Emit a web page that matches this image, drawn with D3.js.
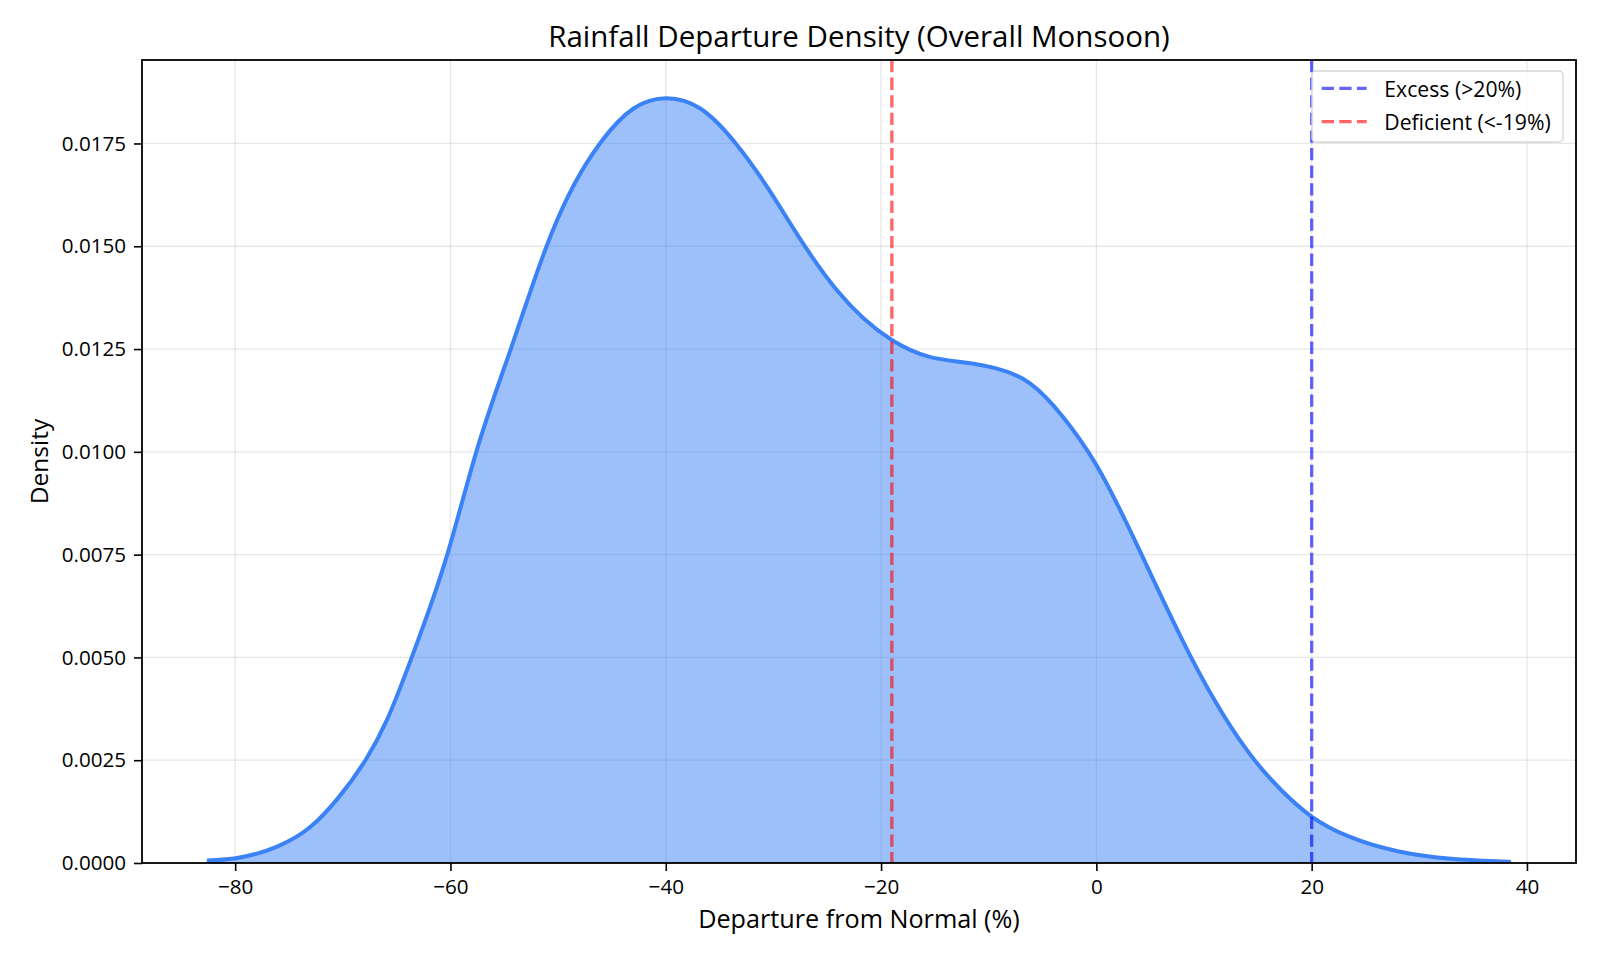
<!DOCTYPE html>
<html>
<head>
<meta charset="utf-8">
<script src="https://cdn.jsdelivr.net/npm/d3@7"></script>
<style>
  html, body { margin: 0; padding: 0; background: #fff; }
  svg { display: block; font-family: "Open Sans", "Noto Sans", sans-serif; }
</style>
</head>
<body>
<svg id="chart" width="1600" height="960"></svg>
<script>
// ---- data ----
const departure = [-82.6, -80.1, -76.1, -73.0, -70.6, -67.9, -65.9, -63.6, -60.3,
  -57.6, -54.4, -51.0, -49.1, -46.0, -43.0, -39.9, -36.8,
  -33.5, -30.6, -27.2, -24.1, -19.0, -15.5, -12.4, -9.3,
  -6.2, -3.1, 0.0, 4.2, 8.8, 14.7, 17.3,
  20.0, 23.5, 28.1, 32.7, 38.5];
const density = [0.00006, 0.00011, 0.00040, 0.00088, 0.00153, 0.00250, 0.00348, 0.00500, 0.00750,
  0.01000, 0.01250, 0.01505, 0.01620, 0.01754, 0.01835, 0.01860, 0.01835,
  0.01750, 0.01645, 0.01505, 0.01393, 0.01272, 0.01231, 0.01218, 0.01203,
  0.01167, 0.01085, 0.00968, 0.00750, 0.00500, 0.00250, 0.00174,
  0.00113, 0.00064, 0.00028, 0.00011, 0.00003];
const xTicks = [-80, -60, -40, -20, 0, 20, 40];
const yTicks = [0, 0.0025, 0.0050, 0.0075, 0.0100, 0.0125, 0.0150, 0.0175];
const thresholdValues = [20, -19];
const thresholdLabels = ["Excess (>20%)", "Deficient (<-19%)"];
const titleText = "Rainfall Departure Density (Overall Monsoon)";
const xLabelText = "Departure from Normal (%)";
const yLabelText = "Density";

// ---- custom d3 curve: natural cubic spline parameterised by x ----
function NaturalX(context) { this._context = context; }
NaturalX.prototype = {
  areaStart: function() { this._line = 0; },
  areaEnd: function() { this._line = NaN; },
  lineStart: function() { this._x = []; this._y = []; },
  point: function(px, py) { this._x.push(+px); this._y.push(+py); },
  lineEnd: function() {
    const xs = this._x, ys = this._y, n = xs.length, c = this._context;
    if (n) {
      this._line ? c.lineTo(xs[0], ys[0]) : c.moveTo(xs[0], ys[0]);
      if (n === 2) c.lineTo(xs[1], ys[1]);
      else if (n > 2) {
        const h = [], M = new Array(n).fill(0);
        for (let i = 0; i < n - 1; i++) h.push(xs[i + 1] - xs[i]);
        // tridiagonal system for interior second derivatives
        const m = n - 2, a = [], b = [], cc = [], d = [];
        for (let k = 0; k < m; k++) {
          const i = k + 1;
          a.push(h[i - 1]); b.push(2 * (h[i - 1] + h[i])); cc.push(h[i]);
          d.push(6 * ((ys[i + 1] - ys[i]) / h[i] - (ys[i] - ys[i - 1]) / h[i - 1]));
        }
        for (let k = 1; k < m; k++) {
          const w = a[k] / b[k - 1];
          b[k] -= w * cc[k - 1]; d[k] -= w * d[k - 1];
        }
        const sol = new Array(m);
        sol[m - 1] = d[m - 1] / b[m - 1];
        for (let k = m - 2; k >= 0; k--) sol[k] = (d[k] - cc[k] * sol[k + 1]) / b[k];
        for (let k = 0; k < m; k++) M[k + 1] = sol[k];
        for (let i = 0; i < n - 1; i++) {
          const hi = h[i], s = (ys[i + 1] - ys[i]) / hi;
          const m0 = s - hi * (2 * M[i] + M[i + 1]) / 6;
          const m1 = s + hi * (M[i] + 2 * M[i + 1]) / 6;
          c.bezierCurveTo(xs[i] + hi / 3, ys[i] + m0 * hi / 3,
                          xs[i + 1] - hi / 3, ys[i + 1] - m1 * hi / 3,
                          xs[i + 1], ys[i + 1]);
        }
      }
    }
    if (this._line || (this._line !== 0 && n === 1)) c.closePath();
    this._line = 1 - this._line;
    this._x = this._y = null;
  }
};
const curveNaturalX = ctx => new NaturalX(ctx);

// ---- layout ----
const W = 1600, H = 960;
const margin = { left: 142, right: 24, top: 60, bottom: 97 };
const pw = W - margin.left - margin.right;
const ph = H - margin.top - margin.bottom;

const svg = d3.select("#chart");
const g = svg.append("g").attr("transform", `translate(${margin.left},${margin.top})`);

const xMin = d3.min(departure), xMax = d3.max(departure);
const xPad = (xMax - xMin) * 0.05;
const x = d3.scaleLinear().domain([xMin - xPad, xMax + xPad]).range([0, pw]);
const yTop = d3.max(density) * 1.05;
const y = d3.scaleLinear().domain([0, yTop]).range([ph, 0]);

const pts = departure.map((d, i) => [d, density[i]]);

svg.append("defs").append("clipPath").attr("id", "plotclip")
  .append("rect").attr("x", 0).attr("y", 0).attr("width", pw).attr("height", ph);

// grid
g.append("g").selectAll("line").data(xTicks).join("line")
  .attr("x1", d => x(d)).attr("x2", d => x(d)).attr("y1", 0).attr("y2", ph)
  .attr("stroke", "#b0b0b0").attr("stroke-opacity", 0.3).attr("stroke-width", 1.3);
g.append("g").selectAll("line").data(yTicks).join("line")
  .attr("x1", 0).attr("x2", pw).attr("y1", d => y(d)).attr("y2", d => y(d))
  .attr("stroke", "#b0b0b0").attr("stroke-opacity", 0.3).attr("stroke-width", 1.3);

// area + line
const plot = g.append("g").attr("clip-path", "url(#plotclip)");
plot.append("path").datum(pts)
  .attr("d", d3.area().x(d => x(d[0])).y0(y(0)).y1(d => y(d[1])).curve(curveNaturalX))
  .attr("fill", "#3b82f6").attr("fill-opacity", 0.5)
  .attr("stroke", "#3b82f6").attr("stroke-opacity", 0.5).attr("stroke-width", 1.5);
plot.append("path").datum(pts)
  .attr("d", d3.line().x(d => x(d[0])).y(d => y(d[1])).curve(curveNaturalX))
  .attr("fill", "none").attr("stroke", "#3b82f6").attr("stroke-width", 4)
  .attr("stroke-linejoin", "round").attr("stroke-linecap", "butt");

// threshold lines
g.append("g").selectAll("line").data(thresholdValues).join("line")
  .attr("x1", d => x(d)).attr("x2", d => x(d)).attr("y1", 0).attr("y2", ph)
  .attr("stroke", (d, i) => i === 0 ? "blue" : "red").attr("stroke-opacity", 0.6)
  .attr("stroke-width", 3.3).attr("stroke-dasharray", "12.3 5.3");

// axes
const fmtY = d3.format(".4f");
const xAxis = g.append("g").attr("transform", `translate(0,${ph})`)
  .call(d3.axisBottom(x).tickValues(xTicks).tickSize(8).tickPadding(8).tickFormat(d3.format("d")));
const yAxis = g.append("g")
  .call(d3.axisLeft(y).tickValues(yTicks).tickSize(8).tickPadding(8).tickFormat(fmtY));
[xAxis, yAxis].forEach(a => {
  a.select(".domain").remove();
  a.selectAll(".tick line").attr("stroke", "#000").attr("stroke-width", 1.6);
  a.selectAll(".tick text").attr("fill", "#000").style("font-size", "20.6px")
    .style("font-family", '"Open Sans", sans-serif');
});

// spines
g.append("rect").attr("x", 0).attr("y", 0).attr("width", pw).attr("height", ph)
  .attr("fill", "none").attr("stroke", "#000").attr("stroke-width", 1.8);

// title and labels
svg.append("text").attr("x", margin.left + pw / 2).attr("y", 47)
  .attr("text-anchor", "middle").style("font-size", "29.5px").attr("fill", "#000").text(titleText);
svg.append("text").attr("x", margin.left + pw / 2).attr("y", 928)
  .attr("text-anchor", "middle").style("font-size", "25.2px").attr("fill", "#000").text(xLabelText);
svg.append("text").attr("transform", `translate(48,${margin.top + ph / 2}) rotate(-90)`)
  .attr("text-anchor", "middle").style("font-size", "24.5px").attr("fill", "#000").text(yLabelText);

// legend
const lg = svg.append("g").attr("transform", "translate(1312,71)");
lg.append("rect").attr("x", 0).attr("y", 0).attr("width", 251).attr("height", 71)
  .attr("rx", 4).attr("fill", "#fff").attr("fill-opacity", 0.8)
  .attr("stroke", "#d6d6d6").attr("stroke-width", 1.3);
thresholdLabels.forEach((lab, i) => {
  const yy = 17.3 + i * 33.4;
  lg.append("line").attr("x1", 9.7).attr("x2", 54.7).attr("y1", yy).attr("y2", yy)
    .attr("stroke", i === 0 ? "blue" : "red").attr("stroke-opacity", 0.6)
    .attr("stroke-width", 3.3).attr("stroke-dasharray", "12.3 5.3");
  lg.append("text").attr("x", 72.3).attr("y", yy + 8.2).style("font-size", "21.2px")
    .attr("fill", "#000").text(lab);
});
</script>
</body>
</html>
